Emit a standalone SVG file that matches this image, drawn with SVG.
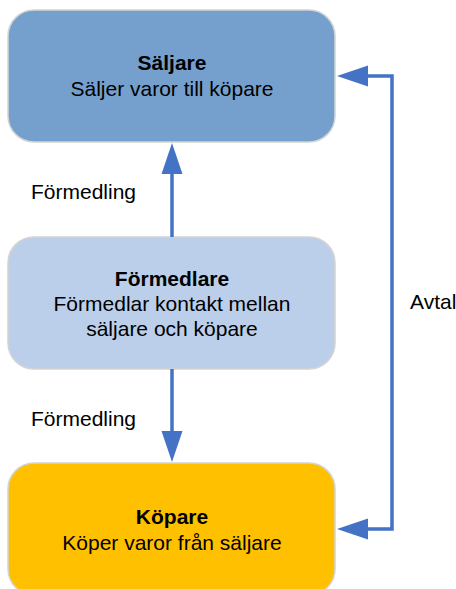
<svg xmlns="http://www.w3.org/2000/svg" width="456" height="589" viewBox="0 0 456 589">
<defs>
<style>
.box{stroke:#D4D4D4;stroke-width:1.5}
.t{font-family:"Liberation Sans",Arial,sans-serif;font-size:21px;fill:#000;text-anchor:middle}
.b{font-weight:bold}
.lbl{font-family:"Liberation Sans",Arial,sans-serif;font-size:21px;fill:#000}
.c{fill:none;stroke:#4472C4;stroke-width:3.5}
.ah{fill:#4472C4}
</style>
</defs>
<rect width="456" height="589" fill="#FFFFFF"/>
<g id="saljare">
<rect class="box" x="8" y="10" width="327" height="132" rx="26" fill="#75A0CD"/>
<text class="t b" x="172" y="70">Säljare</text>
<text class="t" x="172" y="96">Säljer varor till köpare</text>
</g>
<g id="formedlare">
<rect class="box" x="8" y="237" width="327" height="132" rx="26" fill="#BBCFEA"/>
<text class="t b" x="172" y="286">Förmedlare</text>
<text class="t" x="172" y="311">Förmedlar kontakt mellan</text>
<text class="t" x="172" y="336">säljare och köpare</text>
</g>
<g id="kopare">
<rect class="box" x="8" y="463" width="327" height="132" rx="26" fill="#FFC000"/>
<text class="t b" x="172" y="524">Köpare</text>
<text class="t" x="172" y="550">Köper varor från säljare</text>
</g>
<g id="connectors">
<line class="c" x1="172" y1="237" x2="172" y2="170"/>
<polygon class="ah" points="172,143 161.5,174 182.5,174"/>
<line class="c" x1="172" y1="369" x2="172" y2="435"/>
<polygon class="ah" points="172,462 161.5,431 182.5,431"/>
<polyline class="c" points="365,76 392,76 392,529 365,529"/>
<polygon class="ah" points="337,76 368,65.5 368,86.5"/>
<polygon class="ah" points="337,529 368,518.5 368,539.5"/>
<text class="lbl" x="31" y="199">Förmedling</text>
<text class="lbl" x="31" y="426">Förmedling</text>
<text class="lbl" x="410" y="309">Avtal</text>
</g>
</svg>
